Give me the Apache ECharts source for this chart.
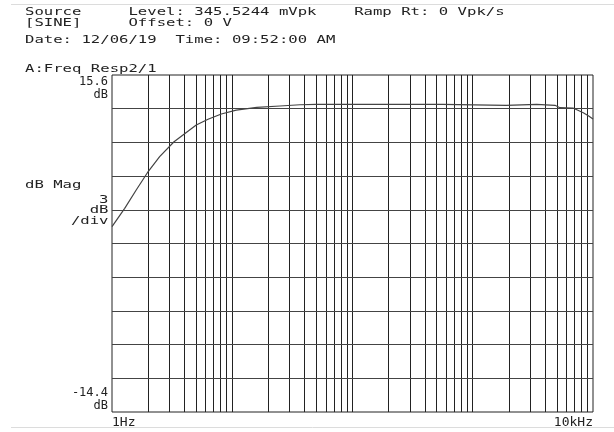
<!DOCTYPE html>
<html><head><meta charset="utf-8">
<script src="https://cdn.jsdelivr.net/npm/echarts@6/dist/echarts.min.js"></script>
<style>html,body{margin:0;padding:0;background:#fff}#c{width:614px;height:432px}</style>
</head><body><div id="c"></div>
<script>
// Measured frequency response (Hz, dB)
const freqHz = [1, 1.275, 1.59, 1.97, 2.49, 3.28, 4.07, 5.02, 6.29, 8.11, 10.8, 16, 24.9, 36.6, 50, 200, 560, 575, 1900, 1960, 3400, 3480, 4830, 5310, 6820, 7080, 8300, 9140, 10000];
const magDb  = [2.10, 3.73, 5.36, 6.90, 8.33, 9.66, 10.41, 11.15, 11.66, 12.13, 12.48, 12.72, 12.84, 12.95, 12.99, 12.99, 12.99, 12.90, 12.90, 12.99, 12.99, 12.92, 12.90, 12.69, 12.66, 12.55, 12.24, 11.98, 11.68];

// Grid lines (log decade subdivisions and 3 dB/div)
const xGridHz = [2,3,4,5,6,7,8,9,10,20,30,40,50,60,70,80,90,100,200,300,400,500,600,700,800,900,1000,2000,3000,4000,5000,6000,7000,8000,9000];
const yGridDb = [-11.4, -8.4, -5.4, -2.4, 0.6, 3.6, 6.6, 9.6, 12.6];
const xMin = 1, xMax = 10000;
const yMin = -14.4, yMax = 15.6;
const xTickLabels = {min: '1Hz', max: '10kHz'};
const yTickLabels = {min: '-14.4\ndB', max: '15.6\ndB'};

const header1 = 'Source     Level: 345.5244 mVpk    Ramp Rt: 0 Vpk/s';
const header2 = '[SINE]     Offset: 0 V';
const header3 = 'Date: 12/06/19  Time: 09:52:00 AM';
const traceTitle = 'A:Freq Resp2/1';
const yName = 'dB Mag';
const scaleLines = ['3', 'dB', '/div'];

const FONT = 'DejaVu Sans Mono';
const TXT = '#222';
function txt(s, x, y, align) {
  return {
    type: 'text', x: x, y: y, scaleX: 1.42, silent: true,
    style: { text: s, fontSize: 11, fontFamily: FONT, fill: TXT,
      align: align || 'left', textAlign: align || 'left',
      verticalAlign: 'middle', textVerticalAlign: 'middle' }
  };
}

const chart = echarts.init(document.getElementById('c'), null, {renderer: 'canvas'});
const marks = xGridHz.map(v => ({xAxis: v, lineStyle: {color: '#222'}}))
  .concat(yGridDb.map(v => ({yAxis: v, lineStyle: {color: '#444'}})));

chart.setOption({
  animation: false,
  backgroundColor: '#fff',
  grid: {left: 112, top: 75, right: 21, bottom: 20, show: true, borderColor: '#222', borderWidth: 1, backgroundColor: 'transparent'},
  xAxis: {
    type: 'log', logBase: 10, min: xMin, max: xMax,
    axisLine: {show: false}, axisTick: {show: false}, splitLine: {show: false}, minorSplitLine: {show: false},
    axisLabel: {
      show: true, margin: 4, fontSize: 13, fontFamily: FONT, color: TXT,
      showMinLabel: true, showMaxLabel: true,
      alignMinLabel: 'left', alignMaxLabel: 'right',
      formatter: v => Math.abs(v - xMin) < 1e-6 ? xTickLabels.min : (Math.abs(v - xMax) < 1e-3 ? xTickLabels.max : '')
    }
  },
  yAxis: {
    type: 'value', min: yMin, max: yMax,
    axisLine: {show: false}, axisTick: {show: false}, splitLine: {show: false},
    axisLabel: {
      show: true, margin: 4, fontSize: 12, lineHeight: 13, fontFamily: FONT, color: TXT,
      showMinLabel: true, showMaxLabel: true,
      verticalAlignMinLabel: 'bottom', verticalAlignMaxLabel: 'top',
      formatter: v => Math.abs(v - yMax) < 1e-6 ? yTickLabels.max : (Math.abs(v - yMin) < 1e-6 ? yTickLabels.min : '')
    }
  },
  series: [{
    type: 'line',
    data: freqHz.map((f, i) => [f, magDb[i]]),
    showSymbol: false, symbol: 'none',
    lineStyle: {color: '#444', width: 1.2},
    z: 5,
    markLine: {
      silent: true, symbol: ['none', 'none'], label: {show: false},
      lineStyle: {type: 'solid', width: 1},
      emphasis: {disabled: true},
      data: marks
    }
  }],
  graphic: [
    {type: 'line', silent: true, shape: {x1: 11, y1: 4.5, x2: 614, y2: 4.5}, style: {stroke: '#dcdcdc', lineWidth: 1}},
    {type: 'line', silent: true, shape: {x1: 11, y1: 427.5, x2: 614, y2: 427.5}, style: {stroke: '#dcdcdc', lineWidth: 1}},
    txt(header1, 25, 12),
    txt(header2, 25, 23.5),
    txt(header3, 25, 40.5),
    txt(traceTitle, 25, 69.5),
    txt(yName, 25, 185),
    txt(scaleLines[0], 108.5, 200, 'right'),
    txt(scaleLines[1], 108.5, 210.5, 'right'),
    txt(scaleLines[2], 108.5, 221.5, 'right')
  ]
});
</script>
</body></html>
